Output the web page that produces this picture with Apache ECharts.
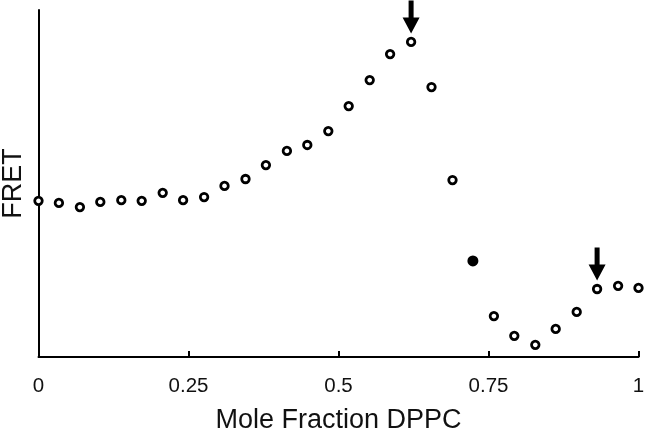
<!DOCTYPE html>
<html>
<head>
<meta charset="utf-8">
<script src="https://cdn.jsdelivr.net/npm/echarts@6/dist/echarts.min.js"></script>
<style>html,body{margin:0;padding:0;background:#fff}#c{width:648px;height:430px}</style>
</head>
<body>
<div id="c"></div>
<script>
// Mole fraction DPPC (x) and FRET (arbitrary units, y)
var moleFraction = [0, 0.034, 0.069, 0.103, 0.138, 0.172, 0.207, 0.241, 0.276, 0.310,
  0.345, 0.379, 0.414, 0.448, 0.483, 0.517, 0.552, 0.586, 0.621, 0.655,
  0.690, 0.724, 0.759, 0.793, 0.828, 0.862, 0.897, 0.931, 0.966, 1];
var fret = [0.450, 0.444, 0.432, 0.447, 0.452, 0.450, 0.473, 0.452, 0.461, 0.493,
  0.513, 0.553, 0.594, 0.611, 0.651, 0.723, 0.798, 0.873, 0.908, 0.778,
  0.510, 0.277, 0.118, 0.061, 0.035, 0.081, 0.130, 0.196, 0.205, 0.199];
var filledIndex = [21];
var arrowIndex = [18, 27];
var xTicks = [0, 0.25, 0.5, 0.75, 1];

var font = 'Liberation Sans, Arial, Helvetica, sans-serif';
var openData = [], filledData = [], arrowData = [];
for (var i = 0; i < moleFraction.length; i++) {
  var p = [moleFraction[i], fret[i]];
  if (filledIndex.indexOf(i) >= 0) filledData.push(p); else openData.push(p);
  if (arrowIndex.indexOf(i) >= 0) arrowData.push(p);
}

var chart = echarts.init(document.getElementById('c'), null, {renderer: 'canvas'});
chart.setOption({
  animation: false,
  backgroundColor: '#fff',
  grid: {left: 38.5, right: 9.5, top: 10, bottom: 73, containLabel: false, outerBoundsMode: 'none'},
  xAxis: {
    type: 'value', min: xTicks[0], max: xTicks[xTicks.length - 1], interval: 0.25,
    name: 'Mole Fraction DPPC', nameLocation: 'middle', nameGap: 50,
    nameTextStyle: {fontFamily: font, fontSize: 27, color: '#111'},
    axisLine: {show: true, lineStyle: {color: '#000', width: 2}},
    axisTick: {show: true, inside: true, length: 6, lineStyle: {color: '#000', width: 2}},
    axisLabel: {fontFamily: font, fontSize: 20.5, color: '#111', margin: 19,
      formatter: function (v) { return String(v); }},
    splitLine: {show: false}
  },
  yAxis: {
    type: 'value', min: 0, max: 1,
    name: 'FRET', nameLocation: 'middle', nameGap: 11,
    nameTextStyle: {fontFamily: font, fontSize: 27, color: '#111'},
    axisLine: {show: true, lineStyle: {color: '#000', width: 2}},
    axisTick: {show: false}, axisLabel: {show: false}, splitLine: {show: false}
  },
  series: [
    {
      type: 'scatter', data: openData, clip: false, symbol: 'circle', symbolSize: 7.5,
      itemStyle: {color: '#fff', borderColor: '#000', borderWidth: 2.8, opacity: 1}, z: 3
    },
    {
      type: 'scatter', data: filledData, clip: false, symbol: 'circle', symbolSize: 8.5,
      itemStyle: {color: '#000', borderColor: '#000', borderWidth: 2.5, opacity: 1}, z: 3
    },
    {
      type: 'scatter', data: arrowData, clip: false,
      symbol: 'path://M6,0L11,0L11,17L17,17L8.5,33L0,17L6,17Z',
      symbolSize: [17, 33], symbolOffset: [0, -25],
      itemStyle: {color: '#000', opacity: 1}, z: 4
    }
  ]
});
</script>
</body>
</html>
